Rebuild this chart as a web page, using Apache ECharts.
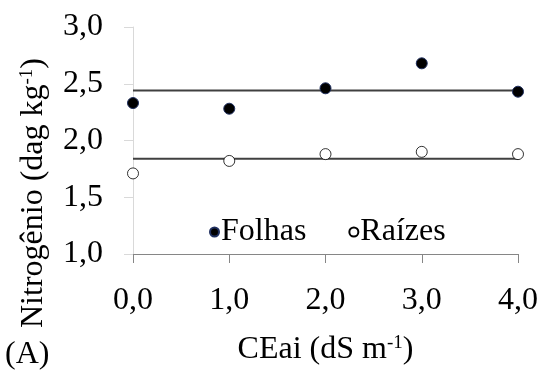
<!DOCTYPE html>
<html>
<head>
<meta charset="utf-8">
<script src="https://cdn.jsdelivr.net/npm/echarts@6/dist/echarts.min.js"></script>
<style>
html,body{margin:0;padding:0;background:#fff;}
#c{width:541px;height:372px;}
</style>
</head>
<body>
<div id="c"></div>
<script>
var xValues = [0, 1, 2, 3, 4];
var xTickLabels = ['0,0', '1,0', '2,0', '3,0', '4,0'];
var yTickLabels = ['1,0', '1,5', '2,0', '2,5', '3,0'];
var folhas = [2.33, 2.28, 2.46, 2.68, 2.43];
var raizes = [1.71, 1.82, 1.88, 1.90, 1.88];
var folhasMean = 2.44;
var raizesMean = 1.84;
var seriesNames = ['Folhas', 'Raízes'];

var FONT = '"Liberation Serif", "Times New Roman", serif';
var SUP = {fontFamily: FONT, fontSize: 19, fill: '#000', color: '#000', verticalAlign: 'top', padding: [0, 0, 12, 0]};

function pairs(ys) { return xValues.map(function (x, i) { return [x, ys[i]]; }); }
function flat(v) { return [[xValues[0], v], [xValues[xValues.length - 1], v]]; }

var chart = echarts.init(document.getElementById('c'), null, {renderer: 'canvas'});
chart.setOption({
  animation: false,
  backgroundColor: '#fff',
  textStyle: {fontFamily: FONT, color: '#000'},
  grid: {left: 133, right: 23, top: 27, bottom: 118, containLabel: false},
  legend: {
    data: [
      {name: seriesNames[0], icon: 'circle'},
      {name: seriesNames[1], icon: 'circle'}
    ],
    left: 204, top: 211,
    itemWidth: 9, itemHeight: 9, itemGap: 42,
    textStyle: {fontFamily: FONT, fontSize: 32, color: '#000', padding: [0, 0, 0, -3]}
  },
  xAxis: {
    type: 'value', min: 0, max: 4, interval: 1,
    name: 'CEai (dS m{sup|-1})',
    nameLocation: 'middle', nameGap: 80,
    nameTextStyle: {fontFamily: FONT, fontSize: 32, color: '#000', rich: {sup: SUP}},
    axisLine: {show: true, lineStyle: {color: '#868686', width: 1}},
    axisTick: {show: true, length: 9, lineStyle: {color: '#868686'}},
    splitLine: {show: false},
    axisLabel: {margin: 31, fontFamily: FONT, fontSize: 32, color: '#000',
      formatter: function (v) { return xTickLabels[xValues.indexOf(v)]; }}
  },
  yAxis: {
    type: 'value', min: 1, max: 3, interval: 0.5,
    axisLine: {show: true, lineStyle: {color: '#d9d9d9', width: 1}},
    axisTick: {show: true, length: 9, lineStyle: {color: '#d9d9d9'}},
    splitLine: {show: false},
    axisLabel: {margin: 30, fontFamily: FONT, fontSize: 32, color: '#000',
      formatter: function (v) { return yTickLabels[Math.round((v - 1) / 0.5)]; }}
  },
  graphic: [
    {type: 'text', left: 5, top: 339, style: {text: '(A)', fontFamily: FONT, fontSize: 32, fill: '#000'}},
    {type: 'text', x: 34, y: 193, rotation: Math.PI / 2,
      style: {text: 'Nitrogênio (dag kg{sup|-1})', fontFamily: FONT, fontSize: 32, fill: '#000',
        align: 'center', verticalAlign: 'middle', rich: {sup: SUP}}}
  ],
  series: [
    {type: 'line', name: 'trendF', data: flat(folhasMean), showSymbol: false, symbol: 'none',
      lineStyle: {color: '#404040', width: 2}, z: 1, silent: true},
    {type: 'line', name: 'trendR', data: flat(raizesMean), showSymbol: false, symbol: 'none',
      lineStyle: {color: '#404040', width: 2}, z: 1, silent: true},
    {type: 'scatter', name: seriesNames[0], data: pairs(folhas), symbol: 'circle', symbolSize: 11,
      itemStyle: {color: '#000', borderColor: '#1f2f5f', borderWidth: 1, opacity: 1}, z: 3},
    {type: 'scatter', name: seriesNames[1], data: pairs(raizes), symbol: 'circle', symbolSize: 11,
      itemStyle: {color: '#fff', borderColor: '#000', borderWidth: 0.8, opacity: 1}, z: 3}
  ]
});
</script>
</body>
</html>
